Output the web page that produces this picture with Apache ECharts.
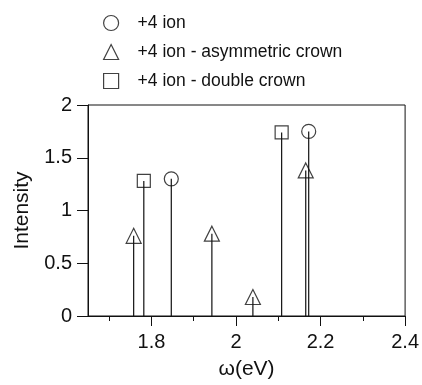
<!DOCTYPE html>
<html>
<head>
<meta charset="utf-8">
<script src="https://cdn.jsdelivr.net/npm/echarts@6/dist/echarts.min.js"></script>
<style>
  html, body { margin: 0; padding: 0; background: #fff; }
  #chart1 { width: 422px; height: 385px; }
</style>
</head>
<body>
<div id="chart1"></div>
<script>
// peak positions (eV) and intensities
var ionX = [1.847, 2.172];
var ionY = [1.30, 1.75];
var asymX = [1.758, 1.943, 2.040, 2.165];
var asymY = [0.76, 0.78, 0.18, 1.38];
var dblX = [1.782, 2.108];
var dblY = [1.28, 1.74];

var seriesNames = ['+4 ion', '+4 ion - asymmetric crown', '+4 ion - double crown'];
var xMajorTicks = [1.8, 2.0, 2.2, 2.4];
var xMinorTicks = [1.7, 1.9, 2.1, 2.3];

function pairs (xs, ys) {
    var out = [];
    for (var i = 0; i < xs.length; i++) out.push([xs[i], ys[i]]);
    return out;
}

function _initChart () {
    var myChart = echarts.init(document.getElementById('chart1'));
    var font = 'Liberation Sans, Arial, sans-serif';
    var ink = '#111';

    var stemData = pairs(ionX, ionY).concat(pairs(asymX, asymY), pairs(dblX, dblY));

    function markerSeries (name, data, symbol, size) {
        return {
            name: name,
            type: 'scatter',
            symbol: symbol,
            symbolSize: size,
            data: data,
            z: 5,
            itemStyle: {
                color: 'rgba(0,0,0,0)',
                borderColor: ink,
                borderWidth: 1.2
            }
        };
    }

    var option = {
        animation: false,
        textStyle: { fontFamily: font },
        legend: {
            orient: 'vertical',
            left: 98,
            top: 9,
            itemGap: 11,
            itemWidth: 15,
            itemHeight: 15,
            data: seriesNames,
            textStyle: {
                fontSize: 17.5,
                color: ink,
                padding: [0, 0, 0, 14]
            },
            itemStyle: {
                color: 'rgba(0,0,0,0)',
                borderColor: ink,
                borderWidth: 1.2
            }
        },
        grid: {
            left: 88,
            right: 15,
            top: 105,
            bottom: 67,
            show: true,
            borderColor: ink,
            borderWidth: 1
        },
        xAxis: [
            {
                type: 'value',
                min: 1.65,
                max: 2.4,
                name: 'ω(eV)',
                nameLocation: 'middle',
                nameGap: 43,
                nameTextStyle: { fontSize: 21, color: ink },
                axisLine: { lineStyle: { color: ink } },
                axisTick: {
                    length: 10,
                    customValues: xMajorTicks,
                    lineStyle: { color: ink }
                },
                axisLabel: {
                    customValues: xMajorTicks,
                    fontSize: 20,
                    color: ink,
                    margin: 16,
                    formatter: function (v) { return String(+v.toFixed(1)); }
                },
                splitLine: { show: false }
            },
            {
                type: 'value',
                min: 1.65,
                max: 2.4,
                position: 'bottom',
                axisLine: { show: false },
                axisTick: {
                    length: 5,
                    customValues: xMinorTicks,
                    lineStyle: { color: ink }
                },
                axisLabel: { show: false },
                splitLine: { show: false }
            }
        ],
        yAxis: {
            type: 'value',
            min: 0,
            max: 2,
            interval: 0.5,
            name: 'Intensity',
            nameLocation: 'middle',
            nameGap: 55,
            nameTextStyle: { fontSize: 21, color: ink },
            axisLine: { show: true, lineStyle: { color: ink } },
            axisTick: { show: true, length: 11, lineStyle: { color: ink } },
            axisLabel: { fontSize: 20, color: ink, margin: 16 },
            splitLine: { show: false }
        },
        series: [
            {
                type: 'custom',
                data: stemData,
                z: 3,
                renderItem: function (params, api) {
                    var x = api.value(0);
                    var p0 = api.coord([x, 0]);
                    var p1 = api.coord([x, api.value(1)]);
                    return {
                        type: 'line',
                        shape: { x1: p0[0], y1: p0[1], x2: p1[0], y2: p1[1] },
                        style: { stroke: ink, lineWidth: 1.2 }
                    };
                }
            },
            markerSeries(seriesNames[0], pairs(ionX, ionY), 'circle', 14),
            markerSeries(seriesNames[1], pairs(asymX, asymY), 'triangle', 15),
            markerSeries(seriesNames[2], pairs(dblX, dblY), 'rect', 13)
        ]
    };
    myChart.setOption(option);
    window.onresize = myChart.resize;
}
_initChart();
</script>
</body>
</html>
